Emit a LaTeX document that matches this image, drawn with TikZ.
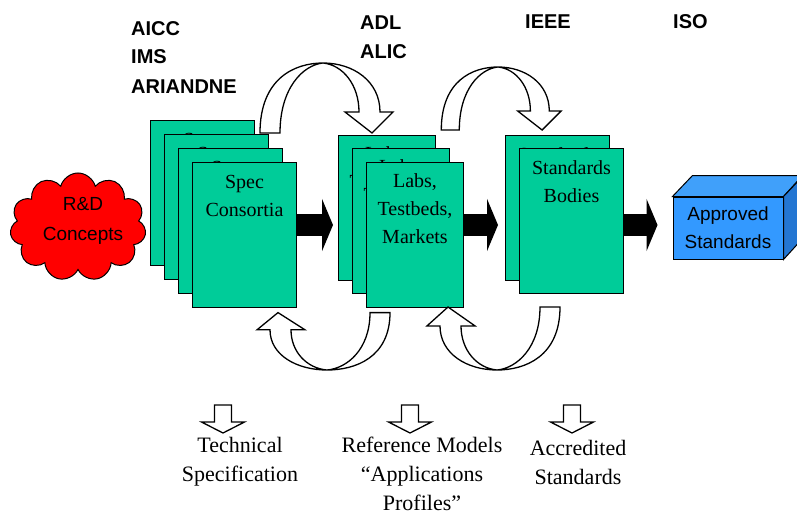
\documentclass[tikz,border=0pt]{standalone}
\usepackage{fontspec}
\setmainfont{Liberation Serif}
\setsansfont{Liberation Sans}
\usetikzlibrary{positioning,shapes.symbols,arrows.meta}

\definecolor{pagegreen}{RGB}{0,204,153}
\definecolor{boxblue}{RGB}{51,153,255}
\definecolor{boxtop}{RGB}{64,160,250}
\definecolor{boxside}{RGB}{36,118,210}

\tikzset{
	page/.style={draw, line width=1pt, fill=pagegreen, minimum width=104pt, minimum height=145pt, anchor=north west, inner sep=0pt},
	pagetext/.style={font=\fontsize{20}{28}\selectfont, align=center, inner sep=0pt},
	tag/.style={font=\sffamily\bfseries\fontsize{20}{22}\selectfont, anchor=west, inner sep=0pt},
	outtext/.style={font=\fontsize{22}{29}\selectfont, align=center, inner sep=0pt},
	flow/.style={line width=22pt, -{Triangle[length=11pt,width=52pt]}},
	hollow/.style={draw, fill=white, line width=1.3pt, line join=miter},
	bendarrow/.pic={
		\draw[hollow] (-63,70) .. controls (-63,15) and (-28,0) .. (0,0)
			.. controls (30,0) and (57,18) .. (57,49) -- (70,49) -- (49,70) -- (22,49) -- (36,49)
			.. controls (36,22) and (20,2) .. (0,0)
			.. controls (-20,2) and (-43,25) .. (-43,70) -- cycle;
	},
	hollowdown/.pic={
		\draw[hollow] (-8.5,-28) -- (8.5,-28) -- (8.5,-11) -- (21.5,-11) -- (0,0) -- (-21.5,-11) -- (-8.5,-11) -- cycle;
	},
}

\begin{document}
\begin{tikzpicture}[x=1pt,y=-1pt]
	\clip (0,0) rectangle (797,516);
	
	\node[tag] (aicc) at (131,29) {AICC};
	\node[tag] (ims) at (131,57) {IMS};
	\node[tag] (ariandne) at (131,87) {ARIANDNE};
	\node[tag] (adl) at (360,23) {ADL};
	\node[tag] (alic) at (360,52) {ALIC};
	\node[tag] (ieee) at (525,22) {IEEE};
	\node[tag] (iso) at (673,22) {ISO};
	
	\node[cloud, cloud puffs=11, cloud ignores aspect, draw, line width=1pt, fill=red, minimum width=136pt, minimum height=108pt] (rd) at (78,227) {};
	\node[font=\sffamily\fontsize{19}{30}\selectfont, align=center, inner sep=0pt] (rdtext) at (83,221) {R\&D\\Concepts};
	
	\foreach \i/\x/\y in {1/150/120, 2/164/134, 3/178/148, 4/192/162}{
		\node[page] (spec\i) at (\x,\y) {};
		\node[pagetext, below=13pt of spec\i.north] (spect\i) {Spec\\Consortia};
	}
	\foreach \i/\x/\y in {1/338/135, 2/352/148, 3/366/162}{
		\node[page, minimum width=97pt] (labs\i) at (\x,\y) {};
		\node[pagetext, below=11pt of labs\i.north] (labst\i) {Labs,\\Testbeds,\\Markets};
	}
	\foreach \i/\x/\y in {1/505/135, 2/519/148}{
		\node[page] (std\i) at (\x,\y) {};
		\node[pagetext, below=12pt of std\i.north] (stdt\i) {Standards\\Bodies};
	}
	
	\node[draw, line width=1pt, fill=boxblue, minimum width=110pt, minimum height=62pt, font=\sffamily\fontsize{19}{28}\selectfont, align=center, inner sep=0pt] (approved) at (728,228) {Approved\\Standards};
	\filldraw[line width=1pt, fill=boxtop] (approved.north west) -- ++(20,-21) -- ++(110,0) -- (approved.north east) -- cycle;
	\filldraw[line width=1pt, fill=boxside] (approved.north east) -- ++(20,-21) -- ++(0,62) -- (approved.south east) -- cycle;
	
	\coordinate (mid) at (0,225);
	\draw[flow, shorten >=5pt] (spec4.east |- mid) -- (labs1.west |- mid);
	\draw[flow, shorten >=7pt] (labs3.east |- mid) -- (std1.west |- mid);
	\draw[flow, shorten >=15pt] (std2.east |- mid) -- (approved.west |- mid);
	
	\pic at (323,63) {bendarrow};
	\pic[scale=0.9] at (498,67) {bendarrow};
	\pic[rotate=180, yscale=0.82] at (327,370) {bendarrow};
	\pic[rotate=180, yscale=0.9] at (497,370) {bendarrow};
	
	\pic at (223,433) {hollowdown};
	\pic at (410,433) {hollowdown};
	\pic at (572,433) {hollowdown};
	
	\node[outtext] (techspec) at (240,462) {Technical\\Specification};
	\node[outtext] (refmodels) at (422,474) {Reference Models\\“Applications\\Profiles”};
	\node[outtext] (accred) at (578,462) {Accredited\\Standards};
	
\end{tikzpicture}
\end{document}
